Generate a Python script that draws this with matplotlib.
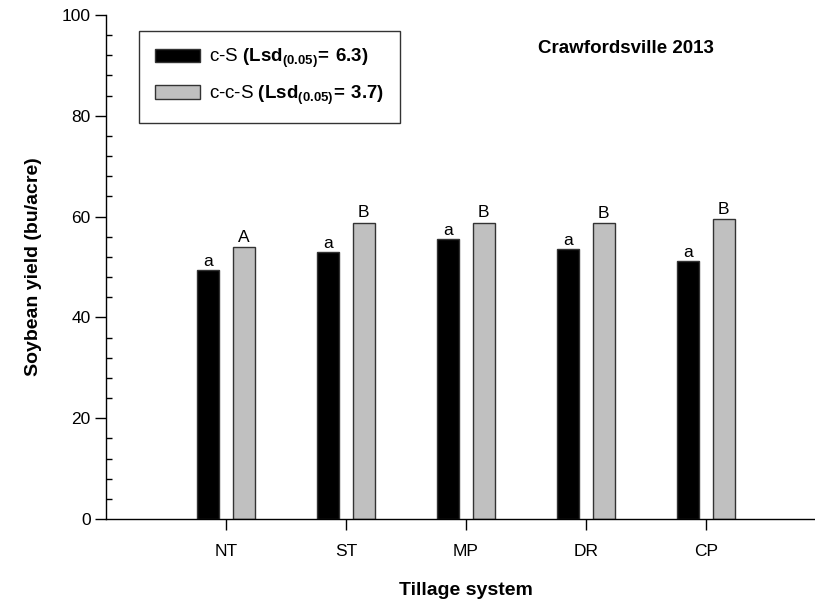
import matplotlib
matplotlib.use("Agg")
import matplotlib.pyplot as plt
import numpy as np
from matplotlib.ticker import MultipleLocator

plt.rcParams["font.family"] = ["Liberation Sans", "DejaVu Sans"]
plt.rcParams["mathtext.fontset"] = "custom"
plt.rcParams["mathtext.rm"] = "Liberation Sans"
plt.rcParams["mathtext.bf"] = "Liberation Sans:bold"

# data
tillage = ["NT", "ST", "MP", "DR", "CP"]
yield_cs = [49.4, 53.0, 55.5, 53.6, 51.1]
yield_ccs = [53.9, 58.8, 58.8, 58.7, 59.5]
letters_cs = ["a", "a", "a", "a", "a"]
letters_ccs = ["A", "B", "B", "B", "B"]
label_cs = r"c-S $\mathbf{(Lsd_{(0.05)}\!{=}\,6.3)}$"
label_ccs = r"c-c-S $\mathbf{(Lsd_{(0.05)}\!{=}\,3.7)}$"

x = np.arange(1, len(tillage) + 1)
w = 0.185
off = 0.147

fig = plt.figure(figsize=(8.15, 6.05), dpi=100)
ax = fig.add_axes([106 / 815, 86 / 605, 709 / 815, 504 / 605])

ax.bar(x - off, yield_cs, width=w, color="black", edgecolor="#333333",
       linewidth=1.0, label=label_cs)
ax.bar(x + off, yield_ccs, width=w, color="#c0c0c0", edgecolor="#333333",
       linewidth=1.0, label=label_ccs)

for xi, v, t in zip(x - off, yield_cs, letters_cs):
    ax.text(xi, v + 0.2, t, ha="center", va="bottom", fontsize=12.5)
for xi, v, t in zip(x + off, yield_ccs, letters_ccs):
    ax.text(xi, v + 0.5, t, ha="center", va="bottom", fontsize=12.5)

ax.set_xlim(0, 709 / 120)
ax.set_ylim(0, 100)
ax.set_xticks(x)
ax.set_xticklabels(tillage, fontsize=12.5)
ax.yaxis.set_major_locator(MultipleLocator(20))
ax.yaxis.set_minor_locator(MultipleLocator(4))
ax.tick_params(axis="y", which="major", direction="out", length=8, width=1,
               labelsize=12.5, pad=3)
ax.tick_params(axis="y", which="minor", direction="in", length=4, width=1)
ax.tick_params(axis="x", which="major", direction="out", length=8, width=1,
               pad=10)
ax.spines["top"].set_visible(False)
ax.spines["right"].set_visible(False)
for s in ("left", "bottom"):
    ax.spines[s].set_linewidth(1.0)

ax.set_xlabel("Tillage system", fontsize=14, fontweight="bold", va="center")
ax.xaxis.set_label_coords(3 / (709 / 120), -0.141)
ax.set_ylabel("Soybean yield (bu/acre)", fontsize=14, fontweight="bold",
              labelpad=14)

ax.text(4.33, 93.3, "Crawfordsville 2013", ha="center", va="center",
        fontsize=13.5, fontweight="bold")

leg = ax.legend(loc="upper left", bbox_to_anchor=(0.0465, 0.968),
                fontsize=13.5, frameon=True, fancybox=False, shadow=False,
                handlelength=2.4, handleheight=0.7, handletextpad=0.5,
                borderpad=0.85, labelspacing=0.7, borderaxespad=0)
leg.get_frame().set_edgecolor("black")
leg.get_frame().set_linewidth(1.0)

fig.savefig("out.png", dpi=100)
